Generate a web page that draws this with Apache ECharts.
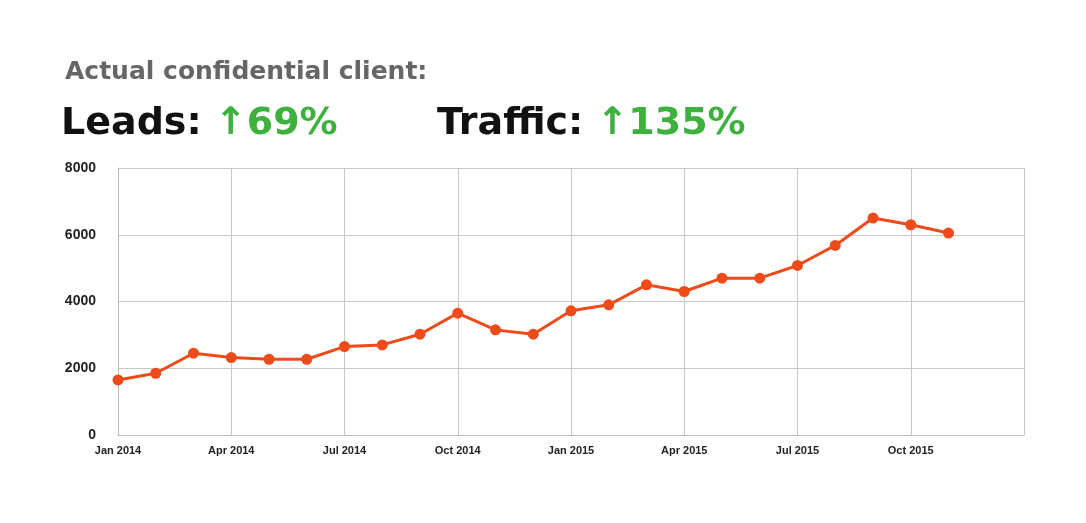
<!DOCTYPE html>
<html><head><meta charset="utf-8">
<script src="https://cdn.jsdelivr.net/npm/echarts@6/dist/echarts.min.js"></script>
<style>html,body{margin:0;padding:0;background:#fff}#c{width:1086px;height:523px}</style>
</head><body><div id="c"></div>
<script>
const months = ['Jan 2014','Feb 2014','Mar 2014','Apr 2014','May 2014','Jun 2014','Jul 2014','Aug 2014','Sep 2014','Oct 2014','Nov 2014','Dec 2014','Jan 2015','Feb 2015','Mar 2015','Apr 2015','May 2015','Jun 2015','Jul 2015','Aug 2015','Sep 2015','Oct 2015','Nov 2015','Dec 2015','Jan 2016'];
const tickLabels = {'Jan 2014':'Jan 2014','Apr 2014':'Apr 2014','Jul 2014':'Jul 2014','Oct 2014':'Oct 2014','Jan 2015':'Jan 2015','Apr 2015':'Apr 2015','Jul 2015':'Jul 2015','Oct 2015':'Oct 2015'};
const leads = [1650,1850,2450,2320,2270,2270,2650,2700,3020,3650,3150,3020,3720,3900,4500,4300,4700,4700,5080,5680,6500,6300,6050];
const chart = echarts.init(document.getElementById('c'));
const big = {fontFamily:'DejaVu Sans',fontWeight:'bold',fontSize:38,color:'#111',rich:{g:{fontFamily:'DejaVu Sans',fontWeight:'bold',fontSize:38,color:'#3db03d'}}};
chart.setOption({
  animation:false,
  title:[
    {text:'Actual confidential client:',left:60,top:55,textStyle:{fontFamily:'DejaVu Sans',fontWeight:'bold',fontSize:25,color:'#666'}},
    {text:'Leads: {g|↑69%}',left:56,top:100,textStyle:big},
    {text:'Traffic: {g|↑135%}',left:432,top:100,textStyle:big}
  ],
  grid:{left:118,right:62,top:168,bottom:88},
  xAxis:{type:'category',data:months,boundaryGap:false,
    axisLine:{lineStyle:{color:'#bbb'}},axisTick:{show:false},
    axisLabel:{interval:2,color:'#222',fontFamily:'Liberation Sans Narrow, Liberation Sans',fontSize:11,fontWeight:'bold',margin:10,formatter:v=>tickLabels[v]||''},
    splitLine:{show:true,interval:2,lineStyle:{color:'#c8c8c8'}}},
  yAxis:{type:'value',min:0,max:8000,interval:2000,
    axisLine:{show:true,lineStyle:{color:'#bbb'}},
    axisLabel:{color:'#222',fontFamily:'Liberation Sans',fontSize:14,fontWeight:'bold',margin:22,formatter:v=>String(v)},
    splitLine:{lineStyle:{color:'#c8c8c8'}}},
  series:[{type:'line',data:leads,symbol:'circle',symbolSize:11,
    lineStyle:{color:'#ee4b1b',width:3},itemStyle:{color:'#ee4b1b'}}]
});
</script></body></html>
